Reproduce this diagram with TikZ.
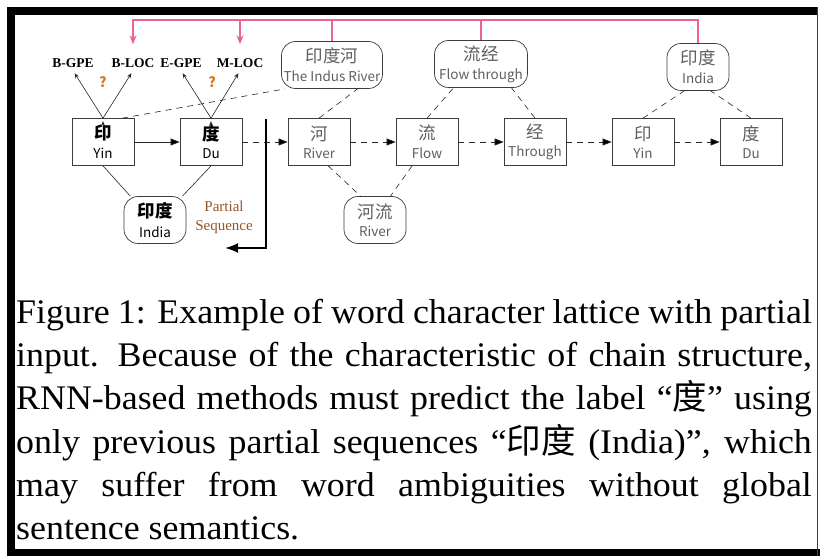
\documentclass[tikz,border=0pt]{standalone}
\usepackage{fontspec}
\setmainfont{Liberation Serif}
\newfontfamily\capfont[FakeStretch=1.04]{Liberation Serif}
\newfontfamily\cjk{Noto Sans CJK SC}
\usetikzlibrary{arrows.meta}
\definecolor{linkpink}{RGB}{236,98,150}
\definecolor{qorange}{RGB}{214,118,32}
\definecolor{seqbrown}{RGB}{150,85,40}
\definecolor{boxgray}{RGB}{60,60,60}
\definecolor{txtgray}{RGB}{95,95,95}
\newcommand{\zhen}[2]{{\fontsize{17.5}{17.5}\selectfont #1}\\[6pt]{\fontsize{13.5}{13.5}\selectfont #2}}

\begin{document}
\begin{tikzpicture}[x=1pt,y=-1pt,
	charbox/.style={draw=boxgray,line width=0.7pt,minimum width=62pt,minimum height=47pt,inner sep=0pt,align=center,font=\cjk},
	wordbox/.style={charbox,rounded corners=14pt},
	faded/.style={text=txtgray},
	tag/.style={font=\bfseries\fontsize{13.5}{13.5}\selectfont,inner sep=3pt},
	qmark/.style={font=\cjk\bfseries\fontsize{14}{14}\selectfont,text=qorange},
	lat/.style={draw=black!85,line width=0.6pt},
	latdash/.style={lat,dash pattern=on 6pt off 5pt},
	nextarrow/.style={-{Triangle[length=9pt,width=7pt]}},
	pinkline/.style={draw=linkpink,line width=1.3pt}]
	\fill[white] (0,0) rectangle (820,556);
	\useasboundingbox (0,0) rectangle (820,556);
	% frame
	\fill[black] (7,7) rectangle (15,556);
	\fill[black] (7,7) rectangle (818,15);
	\fill[black] (7,549) rectangle (820,556);
	\draw[black!75,line width=1pt] (817.5,7) -- (817.5,556);
	% characters
	\node[charbox] (yin) at (103,142) {\zhen{\bfseries 印}{Yin}};
	\node[charbox] (du) at (211,142) {\zhen{\bfseries 度}{Du}};
	\node[charbox,faded] (river) at (319,142) {\zhen{河}{River}};
	\node[charbox,faded] (flow) at (427,142) {\zhen{流}{Flow}};
	\node[charbox,faded] (through) at (535,142) {\zhen{经}{Through}};
	\node[charbox,faded] (yin2) at (643,142) {\zhen{印}{Yin}};
	\node[charbox,faded] (du2) at (751,142) {\zhen{度}{Du}};
	% words
	\node[wordbox] (india) at (155,220) {\zhen{\bfseries 印度}{India}};
	\node[wordbox,faded] (riverflow) at (375,220) {\zhen{河流}{River}};
	\node[wordbox,faded,minimum width=101pt] (indus) at (332,65) {\zhen{印度河}{The Indus River}};
	\node[wordbox,faded,minimum width=93pt] (flowthrough) at (481,64) {\zhen{流经}{Flow through}};
	\node[wordbox,faded] (india2) at (698,67) {\zhen{印度}{India}};
	% tags
	\node[tag] (bgpe) at (73,63) {B-GPE};
	\node[tag] (bloc) at (133,63) {B-LOC};
	\node[tag] (egpe) at (181,63) {E-GPE};
	\node[tag] (mloc) at (240,63) {M-LOC};
	\node[qmark] (q1) at (103,82) {?};
	\node[qmark] (q2) at (212,82) {?};
	\node[text=seqbrown,font=\fontsize{15}{19}\selectfont,align=center] (partial) at (224,217) {Partial\\Sequence};
	% edges
	\path[lat,shorten >=3pt,-{Stealth[length=5pt,width=4pt]}] (yin.north) edge (bgpe.south) edge (bloc.south);
	\path[lat,shorten >=3pt,-{Stealth[length=5pt,width=4pt]}] (du.north) edge (egpe.south) edge (mloc.south);
	\path[lat,nextarrow] (yin) edge (du);
	\path[latdash,nextarrow] (du) edge (river);
	\path[latdash,nextarrow] (river) edge (flow);
	\path[latdash,nextarrow] (flow) edge (through);
	\path[latdash,nextarrow] (through) edge (yin2);
	\path[latdash,nextarrow] (yin2) edge (du2);
	\path[lat] (yin.south) edge (india.136);
	\path[lat] (du.south) edge (india.41);
	\path[latdash] (yin.51) edge (indus.207);
	\path[latdash] (river.north) edge (indus.317);
	\path[latdash] (flow.north) edge (flowthrough.221);
	\path[latdash] (through.north) edge (flowthrough.322);
	\path[latdash] (yin2.north) edge (india2.240);
	\path[latdash] (du2.north) edge (india2.298);
	\path[latdash] (river.291) edge (riverflow.121);
	\path[latdash] (flow.238) edge (riverflow.57);
	% partial sequence cut
	\coordinate (cut) at (266,119);
	\coordinate (cutend) at (225,248);
	\draw[line width=2pt,-{Latex[length=13pt,width=10pt]}] (cut) |- (cutend);
	% pink links
	\coordinate (bus) at (133,20);
	\draw[pinkline,shorten >=11pt,-{Stealth[length=9pt,width=7pt]}] (india2.north) |- (bus) -- (bloc.north);
	\draw[pinkline] (indus.north) -- (indus.north |- bus);
	\draw[pinkline] (flowthrough.north) -- (flowthrough.north |- bus);
	\draw[pinkline,shorten >=11pt,-{Stealth[length=9pt,width=7pt]}] (mloc.north |- bus) -- (mloc.north);
	% caption
	\node[anchor=base west,text width=795.7pt,align=justify,inner sep=0pt,font=\capfont\fontsize{34.5}{43.3}\selectfont] (caption) at (16,323.3) {Figure 1: Example of word character lattice with partial\linebreak input.  Because of the characteristic of chain structure,\linebreak RNN-based methods must predict the label “{\cjk 度}” using\linebreak only previous partial sequences “{\cjk 印度} (India)”, which\linebreak may suffer from word ambiguities without global\linebreak sentence semantics.};
\end{tikzpicture}
\end{document}
